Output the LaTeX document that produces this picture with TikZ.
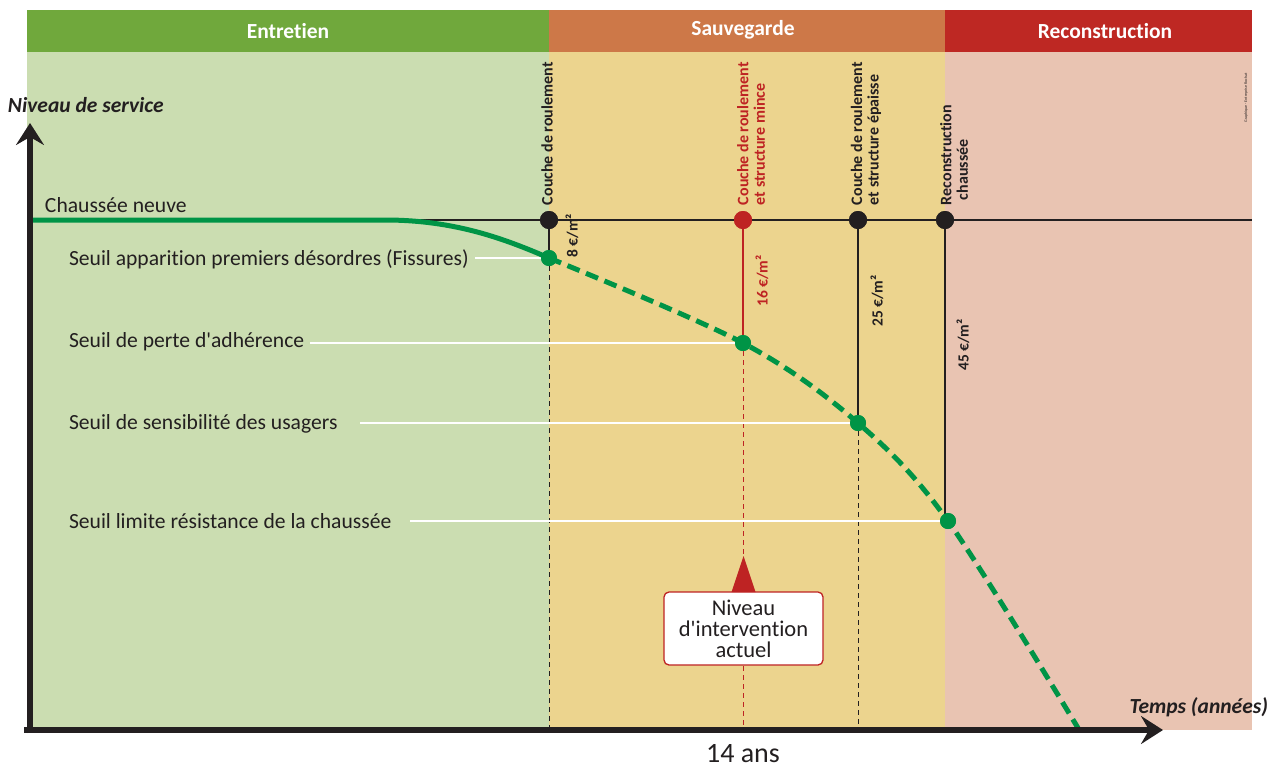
\documentclass[tikz,border=0pt]{standalone}
\usepackage{fontspec}
\setmainfont{Carlito}[Ligatures=NoCommon]
\usetikzlibrary{arrows.meta}
\usetikzlibrary{positioning}
\definecolor{hdrgreen}{RGB}{112,168,60}
\definecolor{hdrorange}{RGB}{205,120,72}
\definecolor{hdrred}{RGB}{190,40,35}
\definecolor{zonegreen}{RGB}{203,221,177}
\definecolor{zoneyellow}{RGB}{236,212,142}
\definecolor{zonepink}{RGB}{233,196,178}
\definecolor{curvegreen}{RGB}{0,148,70}
\definecolor{markred}{RGB}{190,35,35}
\definecolor{dark}{RGB}{35,31,32}
\tikzset{
  base/.style={x=1pt, y=-1pt, inner sep=0pt, outer sep=0pt},
  header/.style={text=white, font=\fontsize{21.5}{23}\selectfont\bfseries},
  topdot/.style={circle, minimum size=18pt, fill=dark},
  seuildot/.style={circle, minimum size=16pt, fill=curvegreen},
  seuiltext/.style={anchor=west, text=dark, font=\fontsize{21.6}{23}\selectfont},
  travaux/.style={rotate=90, anchor=west, align=left, text=dark,
    font=\fontsize{16}{16.5}\selectfont\bfseries},
  cout/.style={rotate=90, text=dark, font=\fontsize{15.5}{17}\selectfont\bfseries},
  axistitle/.style={text=dark, font=\fontsize{21.5}{23}\selectfont\bfseries\itshape},
  whiteline/.style={white, line width=2pt},
  guide/.style={dark, line width=0.8pt, dash pattern=on 5pt off 4pt},
  axis/.style={dark, line width=6pt, -{Stealth[length=22pt, width=28pt, inset=8pt]}}
}

\begin{document}
\begin{tikzpicture}[base]
    % zones
    \fill [zonegreen] (27,52) rectangle (549,730);
    \fill [zoneyellow] (549,52) rectangle (945,730);
    \fill [zonepink] (945,52) rectangle (1252,730);
    \fill [hdrgreen] (27,10) rectangle (549,52);
    \fill [hdrorange] (549,10) rectangle (945,52);
    \fill [hdrred] (945,10) rectangle (1252,52);
    \node [header] (hd1) at (288,31) {Entretien};
    \node [header] (hd2) at (743,30) {Sauvegarde};
    \node [header] (hd3) at (1105,31) {Reconstruction};
    \node [rotate=90, text=dark, font=\fontsize{4}{5}\selectfont] (credit) at (1246,98) {Graphique - Entreprise Rochat};

    % niveau neuf
    \coordinate (n0) at (30,220);
    \coordinate (n1) at (1252,220);
    \draw [dark, line width=1.2pt] (n0) -- (n1);

    % seuils
    \node [seuildot] (s1) at (549,258) {};
    \node [seuildot] (s2) at (743,343) {};
    \node [seuildot] (s3) at (858,423) {};
    \node [seuildot] (s4) at (948,521) {};
    \node [topdot] (t1) at (549,220) {};
    \node [topdot, fill=markred] (t2) at (743,220) {};
    \node [topdot] (t3) at (858,220) {};
    \node [topdot] (t4) at (945,220) {};
    \coordinate (b1) at (549,730);
    \coordinate (b2) at (743,730);
    \coordinate (b3) at (858,730);

    \draw [guide] (s1) -- (b1);
    \draw [guide, markred] (s2) -- (b2);
    \draw [guide] (s3) -- (b3);

    \node [seuiltext] (l0) at (45,205) {Chaussée neuve};
    \node [seuiltext] (l1) at (69,259) {Seuil apparition premiers désordres (Fissures)};
    \node [seuiltext] (l2) at (69,342) {Seuil de perte d\textquotesingle adhérence};
    \node [seuiltext] (l3) at (69,424) {Seuil de sensibilité des usagers};
    \node [seuiltext] (l4) at (69,521) {Seuil limite résistance de la chaussée};
    \coordinate (w1) at (475,258);
    \coordinate (w2) at (310,343);
    \coordinate (w3) at (360,423);
    \coordinate (w4) at (410,521);
    \draw [whiteline] (w1) -- (s1);
    \draw [whiteline] (w2) -- (s2);
    \draw [whiteline] (w3) -- (s3);
    \draw [whiteline] (w4) -- (s4);

    % courbe
    \coordinate (c0) at (385,220);
    \coordinate (cend) at (1078,728);
    \draw [curvegreen, line width=5pt] (n0) -- (c0) .. controls (455,220) and (505,239) .. (s1.center);
    \draw [curvegreen, line width=5pt, dash pattern=on 13pt off 7pt]
        plot [smooth, tension=0.55] coordinates {(549,258) (743,343) (858,423) (948,521) (1078,728)};

    % travaux
    \draw [dark, line width=2.5pt] (t1) -- (s1);
    \draw [markred, line width=2.8pt] (t2) -- (s2);
    \draw [dark, line width=2.8pt] (t3) -- (s3);
    \draw [dark, line width=2.8pt] (t4) -- (t4 |- s4);
    \node [topdot] at (t1) {};
    \node [topdot, fill=markred] at (t2) {};
    \node [topdot] at (t3) {};
    \node [topdot] at (t4) {};
    \node [seuildot] at (s1) {};
    \node [seuildot] at (s2) {};
    \node [seuildot] at (s3) {};
    \node [seuildot] at (s4) {};

    \node [travaux] (r1) at (547,205) {Couche de roulement};
    \node [travaux, text=markred] (r2) at (751,205) {Couche de roulement\\et structure mince};
    \node [travaux] (r3) at (866,205) {Couche de roulement\\et structure épaisse};
    \node [travaux] (r4) at (954,205) {Reconstruction\\\hspace{5pt}chaussée};

    \node [cout] (p1) at (572,236) {8 €/m²};
    \node [cout, text=markred] (p2) at (762,281) {16 €/m²};
    \node [cout] (p3) at (877,301) {25 €/m²};
    \node [cout] (p4) at (963,345) {45 €/m²};

    % niveau actuel
    \node [draw=markred, line width=1.3pt, fill=white, rounded corners=5pt,
        minimum width=159pt, minimum height=73pt, align=center, text=dark,
        font=\fontsize{22.5}{21}\selectfont] (actuel) at (743.5,628.5) {Niveau\\d\textquotesingle intervention\\actuel};
    \fill [markred] ([xshift=-12pt]actuel.north) -- ([yshift=36pt]actuel.north) -- ([xshift=12pt]actuel.north) -- cycle;

    % axes
    \coordinate (y0) at (30,733);
    \coordinate (y1) at (30,123);
    \coordinate (x0) at (24,730);
    \coordinate (x1) at (1163,730);
    \draw [axis] (y0) -- (y1);
    \draw [axis] (x0) -- (x1);
    \node [axistitle, anchor=west] (ylab) at (8,105) {Niveau de service};
    \node [axistitle, anchor=east] (xlab) at (1268,707) {Temps (années)};
    \node [text=dark, font=\fontsize{28}{30}\selectfont, anchor=base] (ans) at (743,762) {14 ans};

    \path [use as bounding box] (0,0) rectangle (1278,769);
\end{tikzpicture}
\end{document}
